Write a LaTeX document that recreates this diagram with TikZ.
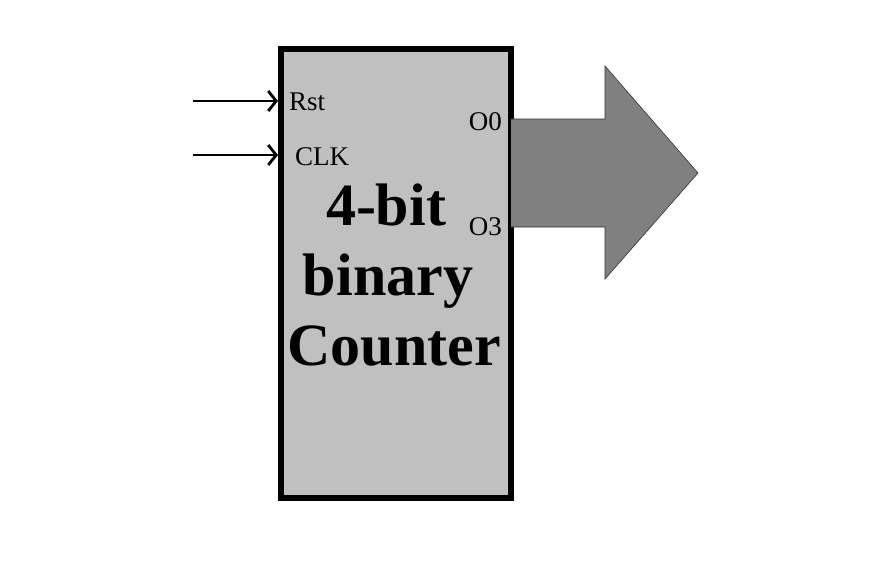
\documentclass[tikz,border=0pt]{standalone}
\usepackage{fontspec}
\setmainfont{Liberation Serif}
\usetikzlibrary{arrows.meta}
\definecolor{boxfill}{HTML}{C0C0C0}
\definecolor{busfill}{HTML}{808080}
\begin{document}
\begin{tikzpicture}[x=1pt,y=-1pt,
  counterbox/.style={draw=black,line width=6pt,fill=boxfill},
  inarrow/.style={line width=2.8pt,-{Straight Barb[length=8pt,width=20pt,line width=2.8pt]}},
  pinlabel/.style={inner sep=0pt,font=\fontsize{27}{29}\selectfont},
  biglabel/.style={inner sep=0pt,anchor=base,font=\fontsize{60}{66}\selectfont\bfseries},
  bus/.style={draw=black!80,line width=0.6pt,fill=busfill}]
\useasboundingbox (0,0) rectangle (893,566);
\fill[white] (0,0) rectangle (893,566);
% counter block
\node[counterbox,minimum width=230pt,minimum height=449pt,inner sep=0pt,anchor=north west] (cnt) at (278,46) {};
% input arrows
\coordinate (rstin) at (193,101);
\coordinate (clkin) at (193,155);
\draw[inarrow] (rstin) -- (rstin -| cnt.west);
\draw[inarrow] (clkin) -- (clkin -| cnt.west);
% pin labels
\node[pinlabel,anchor=west] (rst) at (289,102) {Rst};
\node[pinlabel,anchor=west] (clk) at (295,157) {CLK};
\node[pinlabel,anchor=east] (o0) at (502,122) {O0};
\node[pinlabel,anchor=east] (o3) at (502,227) {O3};
% big label
\node[biglabel] (l1) at (386,225) {4-bit};
\node[biglabel] (l2) at (388,295) {binary};
\node[biglabel] (l3) at (394,365) {Counter};
% output bus arrow
\draw[bus] (511,119) -- (605,119) -- (605,66) -- (698,173) -- (605,279) -- (605,227) -- (511,227);
\end{tikzpicture}
\end{document}
